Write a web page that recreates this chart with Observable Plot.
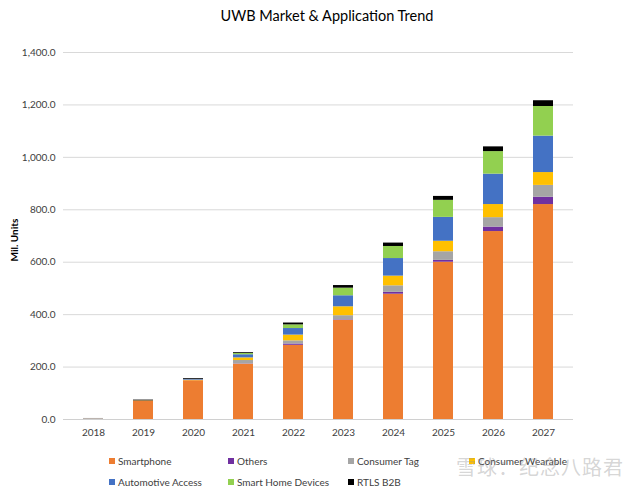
<!DOCTYPE html>
<html><head><meta charset="utf-8">
<script src="https://cdn.jsdelivr.net/npm/d3@7"></script>
<script src="https://cdn.jsdelivr.net/npm/@observablehq/plot@0.6"></script>
<style>
body{margin:0;background:#fff;}
#wrap{position:relative;width:630px;height:488px;font-family:Lato,"Open Sans",sans-serif;overflow:hidden;}
#title{position:absolute;top:7px;left:0;width:654px;text-align:center;font-size:14.5px;color:#000;}
#ylab{position:absolute;left:-11px;top:234px;transform:rotate(-90deg);font-size:10px;font-weight:bold;color:#000;width:50px;text-align:center;}
.lg{position:absolute;font-size:10px;color:#404040;white-space:nowrap;}
.lg i{display:inline-block;width:6px;height:6px;margin-right:3px;vertical-align:1px;}
#wm{position:absolute;left:456px;top:452px;font-size:20px;color:rgba(150,150,150,0.4);font-family:"Noto Sans CJK SC",sans-serif;letter-spacing:1px;}
</style></head><body>
<div id="wrap"><div id="title">UWB Market &amp; Application Trend</div><div id="ylab">Mil. Units</div></div>
<script>
const years = ["2018","2019","2020","2021","2022","2023","2024","2025","2026","2027"];
const seriesNames = ["Smartphone","Others","Consumer Tag","Consumer Wearable","Automotive Access","Smart Home Devices","RTLS B2B"];
const colors = ["#ED7D31","#7030A0","#A5A5A5","#FFC000","#4472C4","#92D050","#000000"];
const smartphone = [1, 70, 148, 211, 283, 378, 478, 600, 717, 820];
const others     = [0, 0, 0, 1, 5, 2, 7, 7, 17, 28];
const consumerTag = [3, 0, 0, 13, 12, 16, 25, 33, 36, 45];
const wearable   = [0, 1, 2, 10, 22, 34, 37, 40, 50, 49];
const automotive = [0, 0, 3, 12, 25, 42, 67, 91, 116, 139];
const smartHome  = [0, 0, 0, 5, 14, 29, 46, 65, 86, 113];
const rtls       = [0, 3, 3, 3, 7, 10, 13, 15, 18, 22];
const yTicks = [0, 200, 400, 600, 800, 1000, 1200, 1400];

const seriesValues = [smartphone, others, consumerTag, wearable, automotive, smartHome, rtls];
const data = [];
seriesNames.forEach((s, i) => years.forEach((y, j) => data.push({year: y, series: s, value: seriesValues[i][j]})));

const chart = Plot.plot({
  width: 630, height: 488,
  marginLeft: 63, marginRight: 57, marginTop: 52, marginBottom: 69,
  style: {fontFamily: "Lato, 'Open Sans', sans-serif", fontSize: "10px", color: "#404040", background: "transparent"},
  x: {domain: years, paddingInner: 0.6, paddingOuter: 0.36, label: null, tickSize: 0, tickPadding: 9},
  y: {domain: [0, 1400], ticks: yTicks, tickFormat: d3.format(",.1f"), label: null, tickSize: 0, tickPadding: 8},
  color: {domain: seriesNames, range: colors},
  marks: [
    Plot.gridY(yTicks, {stroke: "#d9d9d9", strokeOpacity: 1}),
    Plot.barY(data, {x: "year", y: "value", fill: "series", z: "series", order: seriesNames}),
    Plot.ruleY([0], {stroke: "#d0d0d0"})
  ]
});
const wrap = document.getElementById("wrap");
wrap.appendChild(chart);
chart.style.position = "absolute"; chart.style.left = "0"; chart.style.top = "0";
wrap.appendChild(document.getElementById("title"));
wrap.appendChild(document.getElementById("ylab"));

const legendPos = [[109,455],[228,455],[348,455],[469,455],[109,476],[228,476],[348,476]];
seriesNames.forEach((s, i) => {
  const d = document.createElement("div");
  d.className = "lg";
  d.style.left = legendPos[i][0] + "px"; d.style.top = legendPos[i][1] + "px";
  d.innerHTML = `<i style="background:${colors[i]}"></i>${s}`;
  wrap.appendChild(d);
});
const wm = document.createElement("div");
wm.id = "wm"; wm.textContent = "雪球：纪念八路君";
wrap.appendChild(wm);
</script>
</body></html>
